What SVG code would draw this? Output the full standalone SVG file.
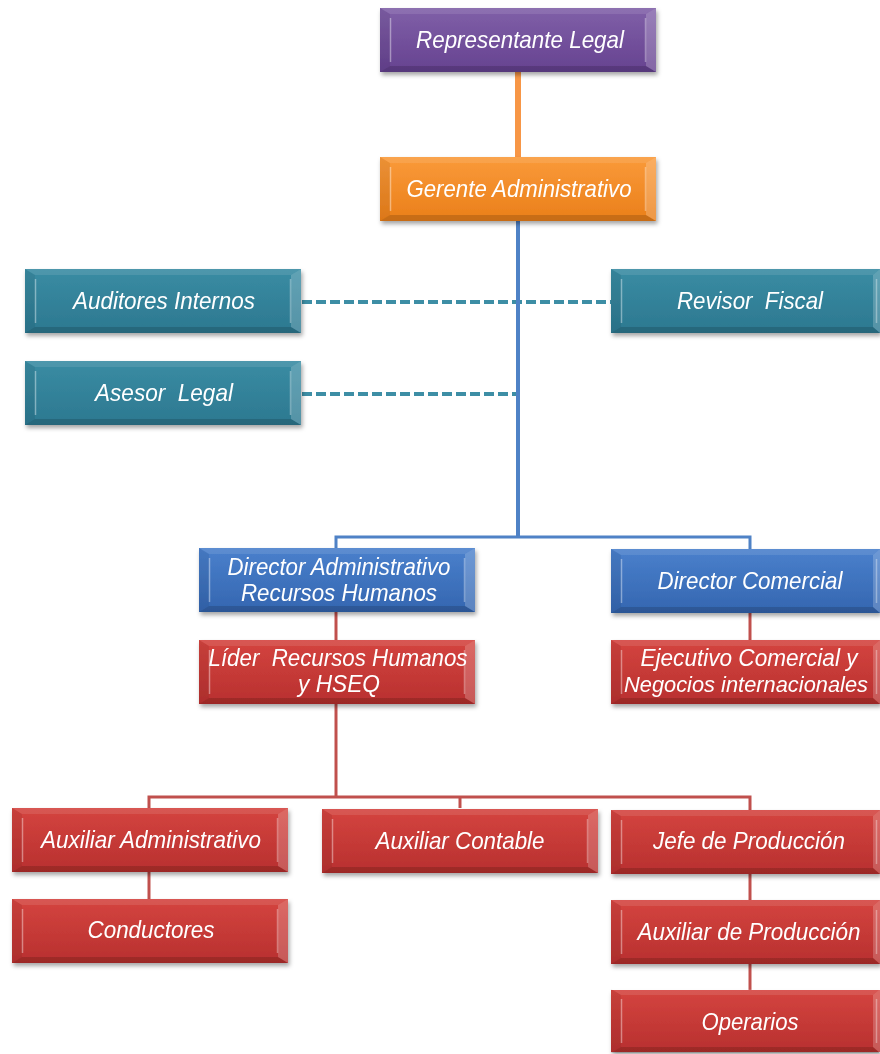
<svg xmlns="http://www.w3.org/2000/svg" xmlns:xlink="http://www.w3.org/1999/xlink" width="880" height="1054" viewBox="0 0 880 1054">
  <style>
    .lbl { font-family: "Liberation Sans", Arial, sans-serif; font-style: italic; font-size: 24px; fill: #ffffff; text-anchor: middle; white-space: pre; }
    .sm { font-size: 22px; }
    .purple { fill: url(#gPurple); }
    .orange { fill: url(#gOrange); }
    .teal { fill: url(#gTeal); }
    .blue { fill: url(#gBlue); }
    .red { fill: url(#gRed); }
    .box { filter: url(#shadow); }
    .solid { fill: none; stroke-linecap: butt; stroke-linejoin: miter; }
  </style>
  <defs>
    <linearGradient id="gPurple" x1="0" y1="0" x2="0" y2="1">
      <stop offset="0" stop-color="#8060a8"/><stop offset="1" stop-color="#664290"/>
    </linearGradient>
    <linearGradient id="gOrange" x1="0" y1="0" x2="0" y2="1">
      <stop offset="0" stop-color="#fa9a3a"/><stop offset="1" stop-color="#ea7f1a"/>
    </linearGradient>
    <linearGradient id="gTeal" x1="0" y1="0" x2="0" y2="1">
      <stop offset="0" stop-color="#3a8ca3"/><stop offset="1" stop-color="#2c7890"/>
    </linearGradient>
    <linearGradient id="gBlue" x1="0" y1="0" x2="0" y2="1">
      <stop offset="0" stop-color="#4a80cc"/><stop offset="1" stop-color="#3466b0"/>
    </linearGradient>
    <linearGradient id="gRed" x1="0" y1="0" x2="0" y2="1">
      <stop offset="0" stop-color="#d4443f"/><stop offset="1" stop-color="#b8302f"/>
    </linearGradient>
    <filter id="shadow" x="-5%" y="-10%" width="115%" height="135%">
      <feDropShadow dx="1.5" dy="3" stdDeviation="2" flood-color="#000" flood-opacity="0.35"/>
    </filter>
    <!-- angled bevel overlay for a 276 x 64 box -->
    <g id="bevel">
      <polygon points="0,0 276,0 266,6 10,6" fill="#ffffff" fill-opacity="0.1"/>
      <polygon points="0,64 276,64 266,58 10,58" fill="#000000" fill-opacity="0.15"/>
      <polygon points="0,0 10,6 10,58 0,64" fill="#000000" fill-opacity="0.06"/>
      <polygon points="276,0 266,6 266,58 276,64" fill="#ffffff" fill-opacity="0.2"/>
      <line x1="10.5" y1="10" x2="10.5" y2="54" stroke="#ffffff" stroke-opacity="0.4" stroke-width="1.5"/>
      <line x1="265.5" y1="10" x2="265.5" y2="54" stroke="#ffffff" stroke-opacity="0.35" stroke-width="1.5"/>
    </g>
    <!-- same bevel for the 269 x 64 boxes of the right column -->
    <g id="bevelR">
      <polygon points="0,0 269,0 262,6 10,6" fill="#ffffff" fill-opacity="0.1"/>
      <polygon points="0,64 269,64 262,58 10,58" fill="#000000" fill-opacity="0.15"/>
      <polygon points="0,0 10,6 10,58 0,64" fill="#000000" fill-opacity="0.06"/>
      <polygon points="269,0 262,6 262,58 269,64" fill="#ffffff" fill-opacity="0.2"/>
      <line x1="10.5" y1="10" x2="10.5" y2="54" stroke="#ffffff" stroke-opacity="0.4" stroke-width="1.5"/>
      <line x1="265.5" y1="10" x2="265.5" y2="54" stroke="#ffffff" stroke-opacity="0.35" stroke-width="1.5"/>
    </g>
  </defs>

  <rect width="880" height="1054" fill="#ffffff"/>

  <!-- connectors -->
  <g id="connectors">
    <line x1="518" y1="72" x2="518" y2="158" stroke="#f79646" stroke-width="6"/>
    <line x1="302" y1="302" x2="611" y2="302" stroke="#3d8ea5" stroke-width="4" stroke-dasharray="10,4"/>
    <line x1="302" y1="394" x2="518" y2="394" stroke="#3d8ea5" stroke-width="4" stroke-dasharray="10,4"/>
    <line x1="518" y1="220" x2="518" y2="537" stroke="#4f82c6" stroke-width="4"/>
    <polyline class="solid" points="336,548 336,537 750,537 750,549" stroke="#4f82c6" stroke-width="3"/>
    <line x1="336" y1="612" x2="336" y2="640" stroke="#c0504d" stroke-width="3"/>
    <line x1="750" y1="613" x2="750" y2="640" stroke="#c0504d" stroke-width="3"/>
    <line x1="336" y1="703" x2="336" y2="797" stroke="#c0504d" stroke-width="3"/>
    <polyline class="solid" points="149,808 149,797 750,797 750,810" stroke="#c0504d" stroke-width="3"/>
    <line x1="460" y1="797" x2="460" y2="808" stroke="#c0504d" stroke-width="3"/>
    <line x1="149" y1="872" x2="149" y2="899" stroke="#c0504d" stroke-width="3"/>
    <line x1="750" y1="874" x2="750" y2="900" stroke="#c0504d" stroke-width="3"/>
    <line x1="750" y1="964" x2="750" y2="990" stroke="#c0504d" stroke-width="3"/>
  </g>

  <!-- nodes -->
  <g id="representante-legal" class="box">
    <rect class="purple" x="380" y="8" width="276" height="64"/>
    <use xlink:href="#bevel" x="380" y="8"/>
    <text class="lbl" x="520" y="48" textLength="208" lengthAdjust="spacingAndGlyphs">Representante Legal</text>
  </g>
  <g id="gerente-administrativo" class="box">
    <rect class="orange" x="380" y="157" width="276" height="64"/>
    <use xlink:href="#bevel" x="380" y="157"/>
    <text class="lbl" x="519" y="197" textLength="225" lengthAdjust="spacingAndGlyphs">Gerente Administrativo</text>
  </g>
  <g id="auditores-internos" class="box">
    <rect class="teal" x="25" y="269" width="276" height="64"/>
    <use xlink:href="#bevel" x="25" y="269"/>
    <text class="lbl" x="164" y="309" textLength="182" lengthAdjust="spacingAndGlyphs">Auditores Internos</text>
  </g>
  <g id="revisor-fiscal" class="box">
    <rect class="teal" x="611" y="269" width="269" height="64"/>
    <use xlink:href="#bevelR" x="611" y="269"/>
    <text class="lbl" x="750" y="309" textLength="146" lengthAdjust="spacingAndGlyphs">Revisor  Fiscal</text>
  </g>
  <g id="asesor-legal" class="box">
    <rect class="teal" x="25" y="361" width="276" height="64"/>
    <use xlink:href="#bevel" x="25" y="361"/>
    <text class="lbl" x="164" y="401" textLength="138" lengthAdjust="spacingAndGlyphs">Asesor  Legal</text>
  </g>
  <g id="director-administrativo" class="box">
    <rect class="blue" x="199" y="548" width="276" height="64"/>
    <use xlink:href="#bevel" x="199" y="548"/>
    <text class="lbl" x="339" y="575" textLength="223" lengthAdjust="spacingAndGlyphs">Director Administrativo</text>
    <text class="lbl" x="339" y="601" textLength="196" lengthAdjust="spacingAndGlyphs">Recursos Humanos</text>
  </g>
  <g id="director-comercial" class="box">
    <rect class="blue" x="611" y="549" width="269" height="64"/>
    <use xlink:href="#bevelR" x="611" y="549"/>
    <text class="lbl" x="750" y="589" textLength="185" lengthAdjust="spacingAndGlyphs">Director Comercial</text>
  </g>
  <g id="lider-rrhh-hseq" class="box">
    <rect class="red" x="199" y="640" width="276" height="64"/>
    <use xlink:href="#bevel" x="199" y="640"/>
    <text class="lbl" x="338" y="666" textLength="259" lengthAdjust="spacingAndGlyphs">Líder  Recursos Humanos</text>
    <text class="lbl" x="339" y="692" textLength="82" lengthAdjust="spacingAndGlyphs">y HSEQ</text>
  </g>
  <g id="ejecutivo-comercial" class="box">
    <rect class="red" x="611" y="640" width="269" height="64"/>
    <use xlink:href="#bevelR" x="611" y="640"/>
    <text class="lbl" x="749" y="666" textLength="217" lengthAdjust="spacingAndGlyphs">Ejecutivo Comercial y</text>
    <text class="lbl sm" x="746" y="692" textLength="244" lengthAdjust="spacingAndGlyphs">Negocios internacionales</text>
  </g>
  <g id="auxiliar-administrativo" class="box">
    <rect class="red" x="12" y="808" width="276" height="64"/>
    <use xlink:href="#bevel" x="12" y="808"/>
    <text class="lbl" x="151" y="848" textLength="220" lengthAdjust="spacingAndGlyphs">Auxiliar Administrativo</text>
  </g>
  <g id="auxiliar-contable" class="box">
    <rect class="red" x="322" y="809" width="276" height="64"/>
    <use xlink:href="#bevel" x="322" y="809"/>
    <text class="lbl" x="460" y="849" textLength="169" lengthAdjust="spacingAndGlyphs">Auxiliar Contable</text>
  </g>
  <g id="jefe-produccion" class="box">
    <rect class="red" x="611" y="810" width="269" height="64"/>
    <use xlink:href="#bevelR" x="611" y="810"/>
    <text class="lbl" x="749" y="849" textLength="192" lengthAdjust="spacingAndGlyphs">Jefe de Producción</text>
  </g>
  <g id="conductores" class="box">
    <rect class="red" x="12" y="899" width="276" height="64"/>
    <use xlink:href="#bevel" x="12" y="899"/>
    <text class="lbl" x="151" y="938" textLength="127" lengthAdjust="spacingAndGlyphs">Conductores</text>
  </g>
  <g id="auxiliar-produccion" class="box">
    <rect class="red" x="611" y="900" width="269" height="64"/>
    <use xlink:href="#bevelR" x="611" y="900"/>
    <text class="lbl" x="749" y="940" textLength="223" lengthAdjust="spacingAndGlyphs">Auxiliar de Producción</text>
  </g>
  <g id="operarios" class="box">
    <rect class="red" x="611" y="990" width="269" height="62"/>
    <use xlink:href="#bevelR" x="611" y="989"/>
    <text class="lbl" x="750" y="1030" textLength="97" lengthAdjust="spacingAndGlyphs">Operarios</text>
  </g>
</svg>
